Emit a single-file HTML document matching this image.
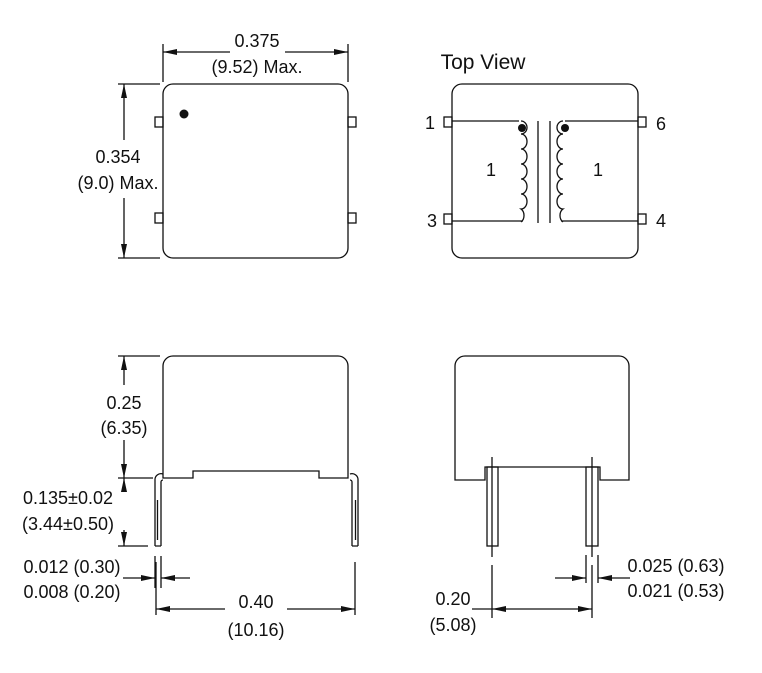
<!DOCTYPE html>
<html><head><meta charset="utf-8"><style>
html,body{margin:0;padding:0;background:#fff}
svg{display:block}
text{font-family:"Liberation Sans Narrow","Liberation Sans",sans-serif;font-size:18px;fill:#111;text-anchor:middle}
</style></head><body>
<svg width="762" height="673" viewBox="0 0 762 673" xmlns="http://www.w3.org/2000/svg">
<defs>
<marker id="a" viewBox="0 0 14 6" refX="14" refY="3" markerWidth="14" markerHeight="6" orient="auto-start-reverse" markerUnits="userSpaceOnUse"><path d="M0,0 L14,3 L0,6 z" fill="#111"/></marker>
</defs>
<g fill="none" stroke="#111" stroke-width="1.3">
<!-- top-left -->
<rect x="163" y="84" width="185" height="174" rx="10"/>
<rect x="155" y="117" width="8" height="10"/><rect x="155" y="213" width="8" height="10"/>
<rect x="348" y="117" width="8" height="10"/><rect x="348" y="213" width="8" height="10"/>
<line x1="163" y1="44" x2="163" y2="82"/><line x1="348" y1="44" x2="348" y2="82"/>
<line x1="163" y1="52" x2="230" y2="52" marker-start="url(#a)"/>
<line x1="285" y1="52" x2="348" y2="52" marker-end="url(#a)"/>
<line x1="118" y1="84" x2="160" y2="84"/><line x1="118" y1="258" x2="160" y2="258"/>
<line x1="124" y1="84" x2="124" y2="140" marker-start="url(#a)"/>
<line x1="124" y1="198" x2="124" y2="258" marker-end="url(#a)"/>
<!-- top-right -->
<rect x="452" y="84" width="186" height="174" rx="10"/>
<rect x="444" y="117" width="8" height="10"/><rect x="444" y="214" width="8" height="10"/>
<rect x="638" y="117" width="8" height="10"/><rect x="638" y="214" width="8" height="10"/>
<path d="M452,121 H519 M452,221 H523"/>
<path d="M565,121 H638 M561,221 H638"/>
<path d="M521,134 a6,7.5 0 0 1 0,15 a6,7.5 0 0 1 0,15 a6,7.5 0 0 1 0,15 a6,7.5 0 0 1 0,15 a6,7.5 0 0 1 0,15 a6,7.5 0 0 1 0,13"/>
<path d="M521,121 a6,6.5 0 0 1 0,13"/>
<path d="M563,134 a6,7.5 0 0 0 0,15 a6,7.5 0 0 0 0,15 a6,7.5 0 0 0 0,15 a6,7.5 0 0 0 0,15 a6,7.5 0 0 0 0,15 a6,7.5 0 0 0 0,13"/>
<path d="M563,121 a6,6.5 0 0 0 0,13"/>
<line x1="538" y1="121" x2="538" y2="223"/><line x1="550" y1="121" x2="550" y2="223"/>
<!-- bottom-left -->
<path d="M163,478 V366 a10,10 0 0 1 10,-10 H338 a10,10 0 0 1 10,10 V478 H319 V471 H193 V478 Z"/>
<path d="M155,546 V480 a6,6 0 0 1 8,-6 M161,546 V482 a2,2 0 0 1 2,-2 M155,546 H161 M157.5,500 V540"/>
<path d="M358,546 V480 a6,6 0 0 0 -8,-6 M352,546 V482 a2,2 0 0 0 -2,-2 M352,546 H358 M355.5,500 V540"/>
<line x1="118" y1="356" x2="160" y2="356"/><line x1="118" y1="478" x2="153" y2="478"/><line x1="118" y1="546" x2="148" y2="546"/>
<line x1="124" y1="356" x2="124" y2="385" marker-start="url(#a)"/>
<line x1="124" y1="440" x2="124" y2="478" marker-end="url(#a)"/>
<line x1="124" y1="478" x2="124" y2="490" marker-start="url(#a)"/>
<line x1="124" y1="530" x2="124" y2="546" marker-end="url(#a)"/>
<path d="M155,556 V588 M161,556 V588 M156,562 V615 M355,562 V615"/>
<line x1="123" y1="578" x2="155" y2="578" marker-end="url(#a)"/>
<line x1="190" y1="578" x2="161" y2="578" marker-end="url(#a)"/>
<line x1="156" y1="609" x2="225" y2="609" marker-start="url(#a)"/>
<line x1="287" y1="609" x2="355" y2="609" marker-end="url(#a)"/>
<!-- bottom-right -->
<path d="M455,480 V366 a10,10 0 0 1 10,-10 H619 a10,10 0 0 1 10,10 V480 H600 V467 H485 V480 Z"/>
<rect x="487" y="467" width="11" height="79"/><rect x="586" y="467" width="12" height="79"/>
<path d="M492,457 V557 M592,457 V557 M492,565 V618 M592,565 V618 M586,555 V583 M598,555 V583"/>
<line x1="555" y1="578" x2="586" y2="578" marker-end="url(#a)"/>
<line x1="630" y1="578" x2="598" y2="578" marker-end="url(#a)"/>
<line x1="472" y1="609" x2="492" y2="609"/>
<line x1="492" y1="609" x2="592" y2="609" marker-start="url(#a)" marker-end="url(#a)"/>
</g>
<circle cx="184" cy="114" r="4.5" fill="#111"/>
<circle cx="522" cy="128" r="4" fill="#111"/>
<circle cx="565" cy="128" r="4" fill="#111"/>
<text x="257" y="47">0.375</text>
<text x="257" y="73">(9.52) Max.</text>
<text x="118" y="163">0.354</text>
<text x="118" y="189">(9.0) Max.</text>
<text x="483" y="69" style="font-size:21px">Top View</text>
<text x="430" y="129">1</text><text x="432" y="227">3</text>
<text x="661" y="130">6</text><text x="661" y="227">4</text>
<text x="491" y="176">1</text><text x="598" y="176">1</text>
<text x="124" y="409">0.25</text>
<text x="124" y="434">(6.35)</text>
<text x="68" y="504">0.135±0.02</text>
<text x="68" y="530">(3.44±0.50)</text>
<text x="72" y="573">0.012 (0.30)</text>
<text x="72" y="598">0.008 (0.20)</text>
<text x="256" y="608">0.40</text>
<text x="256" y="636">(10.16)</text>
<text x="453" y="605">0.20</text>
<text x="453" y="631">(5.08)</text>
<text x="676" y="572">0.025 (0.63)</text>
<text x="676" y="597">0.021 (0.53)</text>
</svg>
</body></html>
